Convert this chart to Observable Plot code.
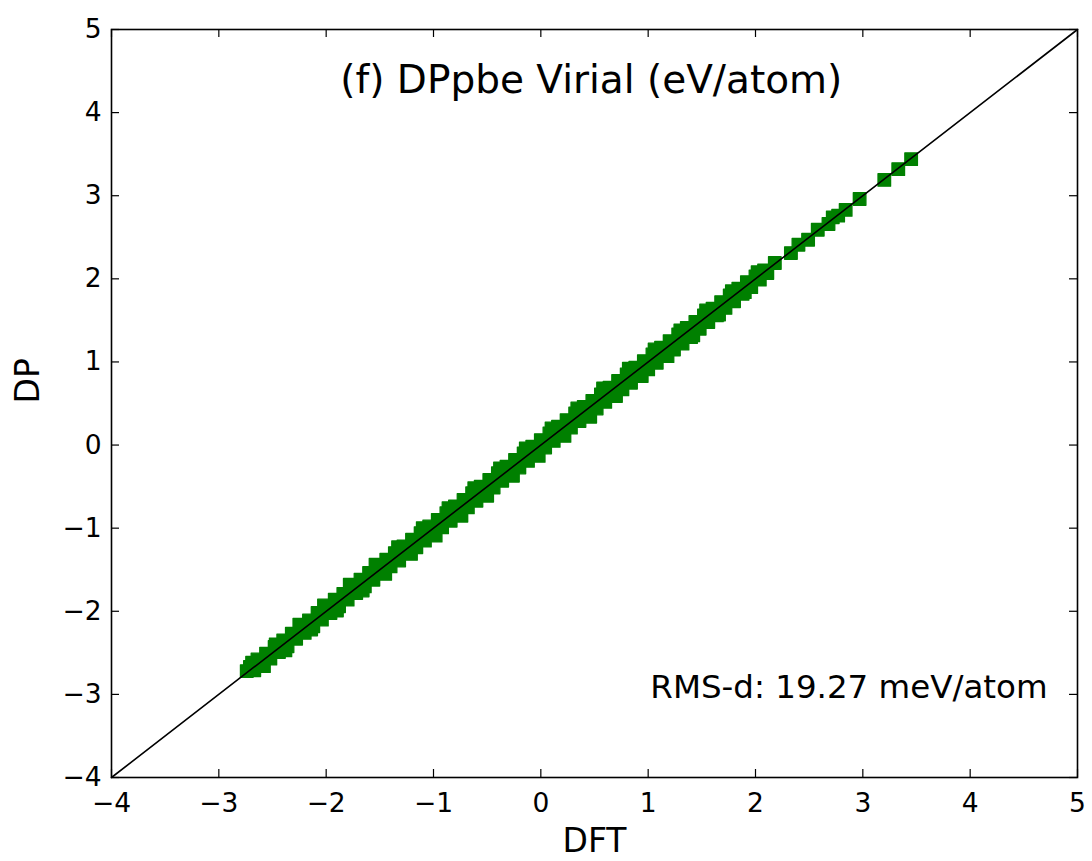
<!DOCTYPE html>
<html>
<head>
<meta charset="utf-8">
<script src="https://cdn.jsdelivr.net/npm/d3@7"></script>
<script src="https://cdn.jsdelivr.net/npm/@observablehq/plot@0.6"></script>
<style>
  html, body { margin: 0; padding: 0; background: #fff; }
</style>
</head>
<body>
<div id="chart"></div>
<script>
// DFT virial (x) and DP virial (y), eV/atom
const dft = [
  -2.74,-2.71,-2.67,-2.64,-2.60,-2.56,-2.52,-2.48,-2.44,-2.40,-2.36,-2.32,-2.28,-2.24,-2.20,-2.16,-2.12,-2.08,-2.04,-2.00,
  -1.96,-1.92,-1.88,-1.84,-1.80,-1.76,-1.72,-1.68,-1.64,-1.60,-1.56,-1.52,-1.48,-1.44,-1.40,-1.36,-1.32,-1.28,-1.24,-1.20,
  -1.16,-1.12,-1.08,-1.04,-1.00,-0.96,-0.92,-0.88,-0.84,-0.80,-0.76,-0.72,-0.68,-0.64,-0.60,-0.56,-0.52,-0.48,-0.44,-0.40,
  -0.36,-0.32,-0.28,-0.24,-0.20,-0.16,-0.12,-0.08,-0.04,0.00,0.04,0.08,0.12,0.16,0.20,0.24,0.28,0.32,0.36,0.40,
  0.44,0.48,0.52,0.56,0.60,0.64,0.68,0.72,0.76,0.80,0.84,0.88,0.92,0.96,1.00,1.04,1.08,1.12,1.16,1.20,
  1.24,1.28,1.32,1.36,1.40,1.44,1.48,1.52,1.56,1.60,1.64,1.68,1.72,1.76,1.80,1.84,1.88,1.92,1.96,2.00,
  2.04,2.08,2.11,
  2.18,2.33,2.40,2.49,2.58,2.68,2.72,2.77,2.84,2.97,3.20,3.33,3.45,
  -2.69,-2.58,-2.47,-2.38,-2.25,-2.14,-2.02,-1.90,-1.78,-1.66,-1.54,-1.45,-1.33,-1.21,-1.10,-0.98,-0.86,-0.74,-0.62,-0.50,
  -0.38,-0.26,-0.14,-0.02,0.10,0.22,0.34,0.46,0.58,0.70,0.82,0.94,1.06,1.18,1.30,1.42,1.54,1.66,1.78,1.90,2.02
];
const dp = [
  -2.72,-2.67,-2.71,-2.58,-2.65,-2.51,-2.57,-2.43,-2.49,-2.35,-2.42,-2.27,-2.33,-2.18,-2.26,-2.11,-2.18,-2.02,-2.10,-1.95,
  -2.02,-1.86,-1.94,-1.79,-1.86,-1.70,-1.78,-1.62,-1.70,-1.54,-1.62,-1.45,-1.54,-1.38,-1.46,-1.30,-1.39,-1.22,-1.30,-1.14,
  -1.23,-1.06,-1.15,-0.98,-1.07,-0.90,-0.99,-0.82,-0.91,-0.74,-0.83,-0.66,-0.75,-0.58,-0.67,-0.50,-0.59,-0.42,-0.51,-0.34,
  -0.43,-0.26,-0.35,-0.18,-0.27,-0.10,-0.19,-0.02,-0.11,0.06,-0.03,0.14,0.05,0.22,0.13,0.30,0.21,0.38,0.29,0.46,
  0.36,0.53,0.44,0.61,0.52,0.69,0.60,0.77,0.67,0.85,0.75,0.93,0.83,1.01,0.91,1.09,0.99,1.17,1.07,1.25,
  1.15,1.33,1.22,1.41,1.30,1.48,1.40,1.56,1.48,1.64,1.56,1.72,1.65,1.80,1.73,1.88,1.82,1.96,1.90,2.03,
  1.99,2.10,2.07,
  2.19,2.31,2.41,2.47,2.59,2.66,2.74,2.76,2.83,2.96,3.19,3.32,3.44,
  -2.62,-2.66,-2.40,-2.47,-2.16,-2.22,-1.93,-1.99,-1.68,-1.75,-1.44,-1.55,-1.23,-1.31,-1.00,-1.09,-0.76,-0.85,-0.52,-0.61,
  -0.28,-0.37,-0.04,-0.13,0.20,0.11,0.44,0.34,0.68,0.59,0.92,0.83,1.15,1.07,1.38,1.32,1.62,1.57,1.85,1.84,2.08
];
const diagonal = [-4, 5];
const xTicks = [-4, -3, -2, -1, 0, 1, 2, 3, 4, 5];
const yTicks = [-4, -3, -2, -1, 0, 1, 2, 3, 4, 5];
const xLabel = ["DFT"];
const yLabel = ["DP"];
const titleText = ["(f) DPpbe Virial (eV/atom)"];
const titlePos = [0.47, 4.23];
const rmsText = ["RMS-d: 19.27 meV/atom"];
const rmsPos = [1.02, -3.04];

const points = dft.map((x, i) => ({x, y: dp[i]}));
const diag = diagonal.map(v => ({x: v, y: v}));
const fmt = d => (d < 0 ? "\u2212" + Math.abs(d) : String(d));

const W = 1092, H = 861;
const mL = 111, mT = 29, mR = 15, mB = 84;
const innerH = H - mT - mB;
const innerW = W - mL - mR;
const tickLen = 8;
const font = "DejaVu Sans";

const chart = Plot.plot({
  width: W,
  height: H,
  marginLeft: mL,
  marginTop: mT,
  marginRight: mR,
  marginBottom: mB,
  style: {fontFamily: font, background: "#fff", color: "#000"},
  x: {domain: [-4, 5]},
  y: {domain: [-4, 5]},
  marks: [
    Plot.dot(points, {x: "x", y: "y", symbol: "square", r: 7.1, fill: "#008000", stroke: "#008000", strokeWidth: 1.3, strokeLinejoin: "round"}),
    Plot.line(diag, {x: "x", y: "y", stroke: "#000", strokeWidth: 1.6}),
    // inward ticks on all four sides
    Plot.tickX(xTicks, {x: d => d, insetTop: innerH - tickLen, stroke: "#000", strokeWidth: 1.2}),
    Plot.tickX(xTicks, {x: d => d, insetBottom: innerH - tickLen, stroke: "#000", strokeWidth: 1.2}),
    Plot.tickY(yTicks, {y: d => d, insetRight: innerW - tickLen, stroke: "#000", strokeWidth: 1.2}),
    Plot.tickY(yTicks, {y: d => d, insetLeft: innerW - tickLen, stroke: "#000", strokeWidth: 1.2}),
    Plot.axisX(xTicks, {anchor: "bottom", tickSize: 0, tickPadding: 16, fontSize: 26.5, tickFormat: fmt, label: null}),
    Plot.axisY(yTicks, {anchor: "left", tickSize: 0, tickPadding: 10, fontSize: 26.5, tickFormat: fmt, label: null}),
    Plot.text(xLabel, {frameAnchor: "bottom", text: d => d, dy: 74, lineAnchor: "bottom", fontSize: 33, fill: "#000"}),
    Plot.text(yLabel, {frameAnchor: "left", text: d => d, dx: -73, rotate: -90, lineAnchor: "bottom", fontSize: 33, fill: "#000"}),
    Plot.frame({stroke: "#000", strokeWidth: 1.6}),
    Plot.text(titleText, {x: () => titlePos[0], y: () => titlePos[1], text: d => d, fontSize: 39, textAnchor: "middle", lineAnchor: "bottom", fill: "#000"}),
    Plot.text(rmsText, {x: () => rmsPos[0], y: () => rmsPos[1], text: d => d, fontSize: 32.5, textAnchor: "start", lineAnchor: "bottom", fill: "#000"})
  ]
});
document.getElementById("chart").appendChild(chart);
</script>
</body>
</html>
